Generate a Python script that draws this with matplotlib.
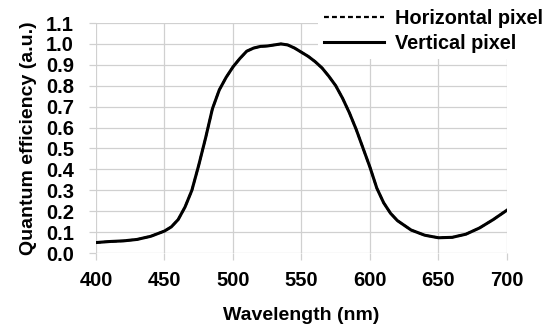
import matplotlib.pyplot as plt
import numpy as np

plt.rcParams['font.family'] = ['Liberation Sans', 'DejaVu Sans']
plt.rcParams['font.weight'] = 'bold'

# (wavelength in nm, QE in a.u.)
wavelength = [400, 410, 420, 430, 440, 450, 455, 460, 465, 470, 475, 480, 485,
              490, 495, 500, 505, 510, 515, 520, 525, 530, 535, 540, 545, 550,
              555, 560, 565, 570, 575, 580, 585, 590, 595, 600, 605, 610, 615,
              620, 630, 640, 650, 660, 670, 680, 690, 700]
qe_vertical = [0.050, 0.055, 0.058, 0.065, 0.080, 0.105, 0.125, 0.160, 0.220,
               0.300, 0.420, 0.550, 0.690, 0.780, 0.840, 0.890, 0.930, 0.965,
               0.980, 0.988, 0.990, 0.995, 1.000, 0.995, 0.980, 0.960, 0.940,
               0.915, 0.885, 0.845, 0.800, 0.740, 0.670, 0.590, 0.500, 0.410,
               0.310, 0.240, 0.190, 0.155, 0.110, 0.085, 0.073, 0.075, 0.090,
               0.120, 0.160, 0.205]
# horizontal pixel curve lies on top of the vertical one
qe_horizontal = list(qe_vertical)

fig = plt.figure(figsize=(5.5, 3.31), dpi=100)
ax = fig.add_axes([0.1745, 0.2356, 0.7473, 0.6949])

ax.plot(wavelength, qe_horizontal, color='black', lw=1.6, ls=(0, (2.2, 1.4)),
        label='Horizontal pixel')
ax.plot(wavelength, qe_vertical, color='black', lw=2.2, label='Vertical pixel')

ax.set_xlim(400, 700)
ax.set_ylim(0, 1.1)
ax.set_xticks(np.arange(400, 701, 50))
ax.set_yticks(np.arange(0, 1.11, 0.1))
ax.set_yticklabels([f'{v:.1f}' for v in np.arange(0, 1.11, 0.1)])
ax.grid(True, color='#d0d0d0', lw=0.9)
ax.set_axisbelow(True)
for s in ax.spines.values():
    s.set_visible(False)
ax.tick_params(axis='both', length=5, color='#d0d0d0', width=0.9,
               labelsize=14.5)
ax.tick_params(axis='y', pad=11)
ax.tick_params(axis='x', pad=8)

ax.set_xlabel('Wavelength (nm)', fontsize=14, fontweight='bold', labelpad=12)
ax.set_ylabel('Quantum efficiency (a.u.)', fontsize=14, fontweight='bold',
              labelpad=6)

leg = fig.legend(loc='upper right', bbox_to_anchor=(1.017, 1.02), fontsize=14.3,
                 frameon=True, facecolor='white', edgecolor='none',
                 framealpha=1, handlelength=3.0, borderpad=0.3,
                 labelspacing=0.3, handletextpad=0.6)

fig.savefig('out.png', dpi=100)
